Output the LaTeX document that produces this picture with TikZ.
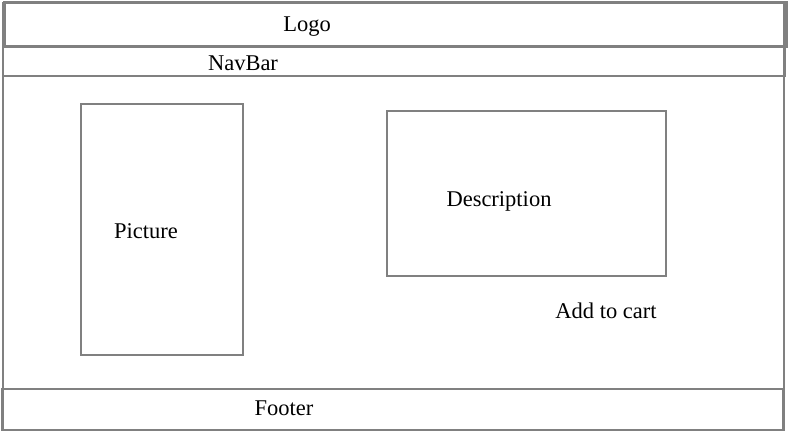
\documentclass[tikz,border=0pt]{standalone}
\usepackage{fontspec}
\setmainfont{Liberation Serif}
\usepackage{tikz}
\usetikzlibrary{positioning}
\colorlet{framegray}{black!50}
\tikzset{
  box/.style={rectangle, draw=framegray, line width=1.8pt, inner sep=0pt},
  bar/.style={rectangle, draw=framegray, line width=3pt, inner sep=0pt},
  label/.style={draw=none, inner sep=1pt, font=\fontsize{22.5}{27}\selectfont}
}

\begin{document}
\begin{tikzpicture}[x=1pt, y=1pt]
\useasboundingbox (0,0) rectangle (792,432);

% page frame
\node[box, minimum width=781, minimum height=427] (page) at (393.5,215.5) {};

% header
\node[bar, minimum width=782, minimum height=44] (logo) at (395,407) {};
\node[box, minimum width=782, minimum height=29] (navbar) at (394,370.5) {};

% content
\node[box, minimum width=162, minimum height=251] (picture) at (162,202.5) {};
\node[box, minimum width=279, minimum height=165] (description) at (526.5,238.5) {};

% footer
\node[box, minimum width=781, minimum height=41] (footer) at (392.5,22.5) {};

% texts
\node[label] (logotext) at (307,405.5) {Logo};
\node[label, fill=white, inner xsep=3pt] (navtext) at (243,368.5) {NavBar};
\node[label] (picturetext) at (146,201) {Picture};
\node[label] (desctext) at (499,230.5) {Description};
\node[label] (carttext) at (606,121.5) {Add to cart};
\node[label] (footertext) at (284,23.5) {Footer};

\end{tikzpicture}
\end{document}
